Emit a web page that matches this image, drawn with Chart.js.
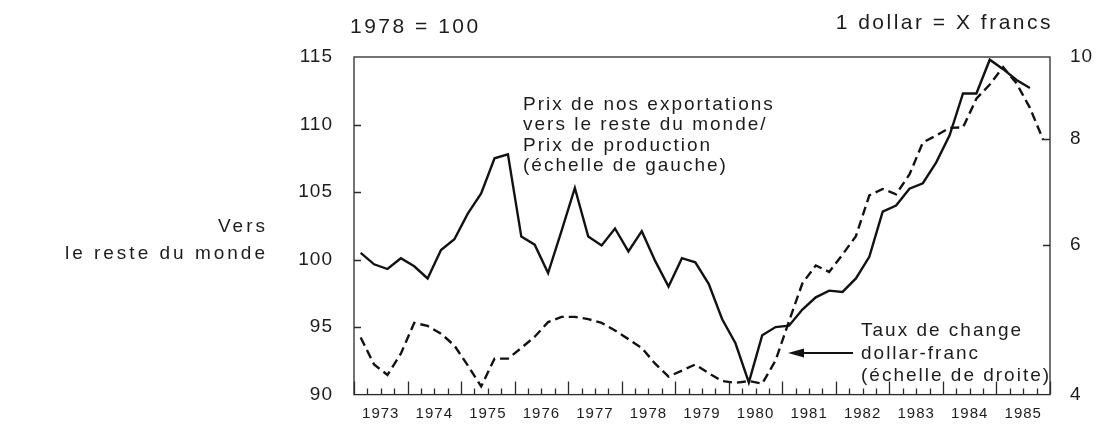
<!DOCTYPE html>
<html>
<head>
<meta charset="utf-8">
<script src="https://cdn.jsdelivr.net/npm/chart.js@4"></script>
<style>
  html, body { margin: 0; padding: 0; background: #fff; }
  #wrap { width: 1098px; height: 427px; }
</style>
</head>
<body>
<div id="wrap"><canvas id="chart" width="1098" height="427"></canvas></div>
<script>
// quarters, 1973 T1 .. 1985 T4
const quarterLabels = [
  '1973 T1', '1973 T2', '1973 T3', '1973 T4',
  '1974 T1', '1974 T2', '1974 T3', '1974 T4',
  '1975 T1', '1975 T2', '1975 T3', '1975 T4',
  '1976 T1', '1976 T2', '1976 T3', '1976 T4',
  '1977 T1', '1977 T2', '1977 T3', '1977 T4',
  '1978 T1', '1978 T2', '1978 T3', '1978 T4',
  '1979 T1', '1979 T2', '1979 T3', '1979 T4',
  '1980 T1', '1980 T2', '1980 T3', '1980 T4',
  '1981 T1', '1981 T2', '1981 T3', '1981 T4',
  '1982 T1', '1982 T2', '1982 T3', '1982 T4',
  '1983 T1', '1983 T2', '1983 T3', '1983 T4',
  '1984 T1', '1984 T2', '1984 T3', '1984 T4',
  '1985 T1', '1985 T2', '1985 T3', '1985 T4'
];

// Prix des exportations vers le reste du monde / prix de production (1978 = 100)
const exportPrice = [
  100.5, 99.65, 99.3, 100.1,
  99.5, 98.6, 100.7, 101.5,
  103.4, 104.9, 107.5, 107.8,
  101.7, 101.1, 99.0, 102.1,
  105.3, 101.7, 101.05, 102.3,
  100.6, 102.1, 99.9, 98.0,
  100.1, 99.8, 98.2, 95.6,
  93.8, 90.9, 94.4, 95.0,
  95.1, 96.3, 97.2, 97.7,
  97.6, 98.6, 100.2, 103.55,
  104.0, 105.25, 105.65, 107.2,
  109.2, 112.3, 112.3, 114.8,
  114.1, 113.3, 112.7
];

// Taux de change dollar-franc (1 dollar = X francs)
const dollarFranc = [
  4.67, 4.34, 4.22, 4.47,
  4.86, 4.82, 4.72, 4.57,
  4.33, 4.09, 4.41, 4.41,
  4.54, 4.68, 4.87, 4.94,
  4.94, 4.91, 4.86, 4.76,
  4.65, 4.54, 4.35, 4.20,
  4.27, 4.34, 4.24, 4.15,
  4.13, 4.15, 4.12, 4.39,
  4.88, 5.41, 5.68, 5.58,
  5.85, 6.15, 6.87, 6.99,
  6.89, 7.27, 7.93, 8.08,
  8.25, 8.26, 8.93, 9.28,
  9.73, 9.31, 8.71, 7.98
];

const yearLabels = ['1973', '1974', '1975', '1976', '1977', '1978', '1979',
  '1980', '1981', '1982', '1983', '1984', '1985'];
const leftTicks = [90, 95, 100, 105, 110, 115];
const rightTicks = [4, 6, 8, 10];

const TEXT = '#1c1c1c';
const LINE = '#121212';
const SANS = '"Liberation Sans", Arial, Helvetica, sans-serif';

// quarter label -> position of the middle of the quarter on the year axis
function quarterPos(label) {
  const parts = label.split(' T');
  return Number(parts[0]) + (Number(parts[1]) - 0.5) / 4;
}

function toPoints(values) {
  return values.map((v, i) => ({ x: quarterPos(quarterLabels[i]), y: v }));
}

function drawText(ctx, lines, x, y0, lineH, align) {
  ctx.textAlign = align;
  lines.forEach((t, i) => ctx.fillText(t, x, y0 + i * lineH));
}

const decorPlugin = {
  id: 'decor',
  beforeDraw(chart) {
    chart.ctx.letterSpacing = '1px';
  },
  afterDraw(chart) {
    const ctx = chart.ctx;
    const a = chart.chartArea;
    const xs = chart.scales.x;
    const yl = chart.scales.y;
    const yr = chart.scales.y1;

    ctx.save();
    ctx.strokeStyle = '#2a2a2a';
    ctx.lineWidth = 1.3;
    ctx.strokeRect(a.left, a.top, a.right - a.left, a.bottom - a.top);

    // inward tick marks
    ctx.beginPath();
    for (let q = 0; q <= quarterLabels.length; q++) {
      const px = Math.round(xs.getPixelForValue(1973 + q / 4)) + 0.5;
      const len = q % 4 === 0 ? 13 : 6;
      ctx.moveTo(px, a.bottom);
      ctx.lineTo(px, a.bottom - len);
    }
    leftTicks.slice(1, -1).forEach(v => {
      const py = Math.round(yl.getPixelForValue(v)) + 0.5;
      ctx.moveTo(a.left, py);
      ctx.lineTo(a.left + 7, py);
    });
    rightTicks.slice(1, -1).forEach(v => {
      const py = Math.round(yr.getPixelForValue(v)) + 0.5;
      ctx.moveTo(a.right, py);
      ctx.lineTo(a.right - 7, py);
    });
    ctx.stroke();

    ctx.fillStyle = TEXT;
    ctx.textBaseline = 'alphabetic';

    // unit titles
    ctx.font = '21px ' + SANS;
    ctx.letterSpacing = '2.5px';
    drawText(ctx, ['1978 = 100'], 350, 33, 0, 'left');
    drawText(ctx, ['1 dollar = X francs'], a.right + 3, 29, 0, 'right');

    // left label
    ctx.font = '19px ' + SANS;
    ctx.letterSpacing = '3px';
    drawText(ctx, ['Vers', 'le reste du monde'], 268, 232, 27, 'right');

    // series annotations
    ctx.letterSpacing = '2px';
    drawText(ctx, ['Prix de nos exportations', 'vers le reste du monde/',
      'Prix de production', '(échelle de gauche)'], 523, 110, 20.3, 'left');
    drawText(ctx, ['Taux de change', 'dollar-franc', '(échelle de droite)'],
      861, 336, 22.5, 'left');

    // arrow to the dashed line
    ctx.strokeStyle = LINE;
    ctx.lineWidth = 2;
    ctx.beginPath();
    ctx.moveTo(853, 353);
    ctx.lineTo(800, 353);
    ctx.stroke();
    ctx.fillStyle = LINE;
    ctx.beginPath();
    ctx.moveTo(788, 353);
    ctx.lineTo(804, 348.5);
    ctx.lineTo(804, 357.5);
    ctx.closePath();
    ctx.fill();
    ctx.restore();
  }
};

const ctx = document.getElementById('chart');
new Chart(ctx, {
  type: 'line',
  data: {
    datasets: [
      {
        label: 'Prix de nos exportations vers le reste du monde / Prix de production',
        data: toPoints(exportPrice),
        yAxisID: 'y',
        borderColor: LINE,
        borderWidth: 2.4,
        pointRadius: 0,
        tension: 0,
        fill: false
      },
      {
        label: 'Taux de change dollar-franc',
        data: toPoints(dollarFranc),
        yAxisID: 'y1',
        borderColor: LINE,
        borderWidth: 2.4,
        borderDash: [9, 5],
        pointRadius: 0,
        tension: 0,
        fill: false
      }
    ]
  },
  options: {
    responsive: false,
    devicePixelRatio: 1,
    animation: false,
    layout: { padding: { top: 57, left: 0, right: 0, bottom: 0 } },
    plugins: {
      legend: { display: false },
      tooltip: { enabled: false }
    },
    scales: {
      x: {
        type: 'linear',
        min: 1973,
        max: 1986,
        grid: { display: false, drawTicks: false },
        border: { display: false },
        afterBuildTicks: (scale) => {
          scale.ticks = yearLabels.map(y => ({ value: Number(y) + 0.5 }));
        },
        afterFit: (scale) => { scale.height = 25; },
        ticks: {
          autoSkip: false,
          maxRotation: 0,
          padding: 10,
          color: TEXT,
          font: { family: SANS, size: 15 },
          callback: (v) => String(Math.floor(v))
        }
      },
      y: {
        type: 'linear',
        position: 'left',
        min: 90,
        max: 115,
        grid: { display: false, drawTicks: false },
        border: { display: false },
        afterBuildTicks: (scale) => {
          scale.ticks = leftTicks.map(v => ({ value: v }));
        },
        afterFit: (scale) => { scale.width = 354; },
        ticks: {
          padding: 21,
          color: TEXT,
          font: { family: SANS, size: 19 },
          callback: (v) => String(v)
        }
      },
      y1: {
        type: 'logarithmic',
        position: 'right',
        min: 4,
        max: 10,
        grid: { display: false, drawTicks: false },
        border: { display: false },
        afterBuildTicks: (scale) => {
          scale.ticks = rightTicks.map(v => ({ value: v }));
        },
        afterFit: (scale) => { scale.width = 48; },
        ticks: {
          padding: 20,
          color: TEXT,
          font: { family: SANS, size: 19 },
          callback: (v) => String(v)
        }
      }
    }
  },
  plugins: [decorPlugin]
});
</script>
</body>
</html>
